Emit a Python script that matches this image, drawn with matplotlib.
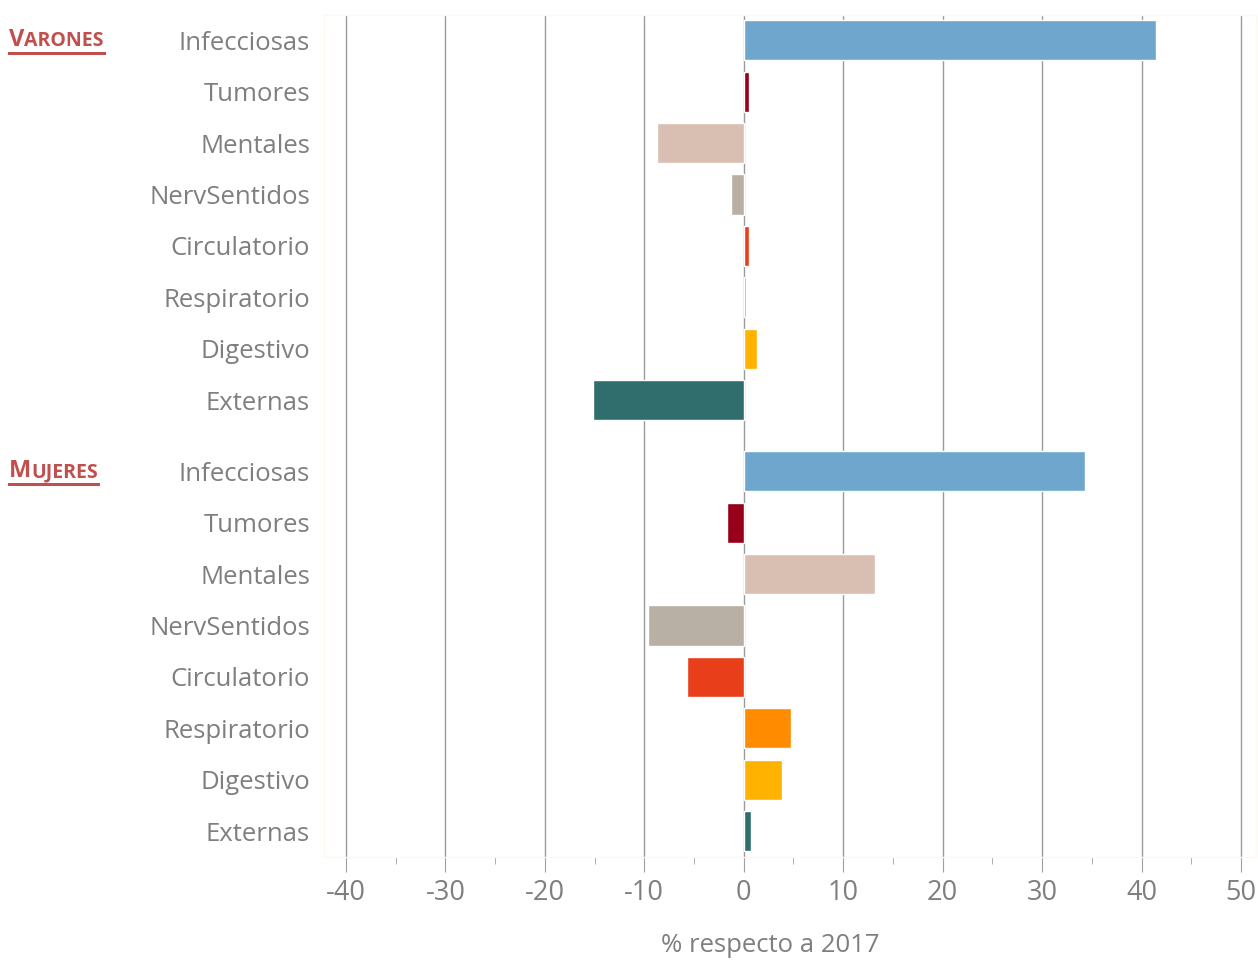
import numpy as np
import matplotlib.pyplot as plt

# datos: variación (%) respecto a 2017
categorias = ['Infecciosas', 'Tumores', 'Mentales', 'NervSentidos',
              'Circulatorio', 'Respiratorio', 'Digestivo', 'Externas']
varones = [41.4, 0.5, -8.7, -1.3, 0.5, 0.2, 1.3, -15.2]
mujeres = [34.3, -1.7, 13.2, -9.6, -5.7, 4.8, 3.8, 0.7]
colores = ['#6FA6CE', '#960018', '#D9BFB1', '#B9B0A5',
           '#E93E1A', '#FF8C00', '#FFB300', '#306E6D']
grupos = ['VARONES', 'MUJERES']

plt.rcParams['font.family'] = ['Open Sans', 'DejaVu Sans']
gris = '#7F7F7F'
rojo = '#C0504D'

W, H = 1258, 961
fig = plt.figure(figsize=(W / 100, H / 100), dpi=100)
ax = fig.add_axes([324 / W, (H - 857) / H, (1256 - 324) / W, 842 / H])

n = len(categorias)
salto = 1.38  # separación extra entre grupos
y_var = np.arange(n)
y_muj = np.arange(n) + n - 1 + salto

ax.barh(y_var, varones, height=0.78, color=colores, edgecolor='white', linewidth=1, zorder=3)
ax.barh(y_muj, mujeres, height=0.78, color=colores, edgecolor='white', linewidth=1, zorder=3)

ax.set_xlim(-42.2, 51.5)
ax.set_ylim(y_muj[-1] + 0.5, -0.49)

ax.set_xticks(np.arange(-40, 51, 10))
ax.set_xticks(np.arange(-35, 50, 10), minor=True)
ax.set_xticklabels([f'{v}' for v in range(-40, 51, 10)])
ax.tick_params(axis='x', which='major', length=11, color='#A0A0A0', labelsize=19.5,
               labelcolor=gris, pad=5)
ax.tick_params(axis='x', which='minor', length=5, color='#A0A0A0')
ax.grid(axis='x', which='major', color='#9A9A9A', lw=1, zorder=1)

ax.set_yticks(list(y_var) + list(y_muj))
ax.set_yticklabels(categorias + categorias)
ax.tick_params(axis='y', length=0, labelsize=18.5, labelcolor=gris, pad=10)

for s in ax.spines.values():
    s.set_color('#FEF8EF')
    s.set_linewidth(1)

fig.text(770 / W, 1 - 946 / H, '% respecto a 2017', ha='center', va='center',
         fontsize=18.5, color=gris)

# encabezados de grupo en versalitas
for nombre, yc in zip(grupos, [40, 471]):
    yf = 1 - yc / H
    t1 = fig.text(9 / W, yf, nombre[0], fontsize=17, fontweight='bold', color=rojo,
                  va='center', ha='left')
    fig.canvas.draw()
    bb = t1.get_window_extent()
    t2 = fig.text(bb.x1 / W, yf - 1 / H, nombre[1:], fontsize=14, fontweight='bold',
                  color=rojo, va='center', ha='left')
    fig.canvas.draw()
    bb2 = t2.get_window_extent()
    fig.add_artist(plt.Line2D([9 / W, bb2.x1 / W], [yf - 13 / H, yf - 13 / H],
                              color=rojo, lw=2.2, transform=fig.transFigure))

fig.savefig('out.png', dpi=100)
